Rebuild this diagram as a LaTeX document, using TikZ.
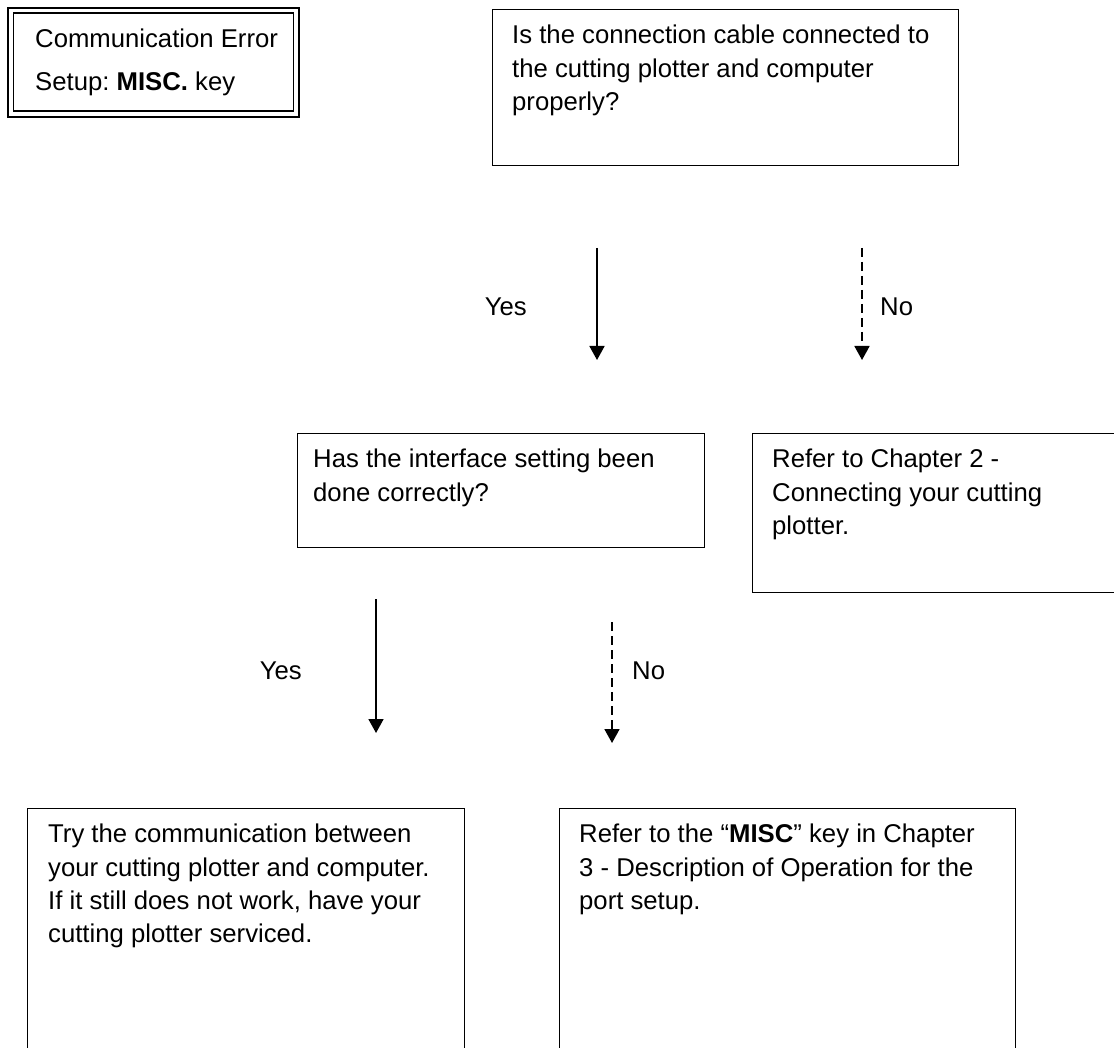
\documentclass[tikz,border=0pt]{standalone}
\usepackage{fontspec}
\setmainfont{Liberation Sans}
\usetikzlibrary{arrows.meta}
\frenchspacing
\begin{document}
\begin{tikzpicture}[x=1pt,y=-1pt,
  box/.style={draw=black, line width=1.4pt, rectangle, inner sep=0pt, anchor=north west},
  txt/.style={font=\fontsize{25.7pt}{33.3pt}\selectfont\frenchspacing, align=left, inner sep=0pt, anchor=north west, text=black},
  lbl/.style={font=\fontsize{25.7pt}{33.3pt}\selectfont, inner sep=0pt, text=black},
  yesarr/.style={draw=black, line width=1.8pt, -{Triangle[width=15pt,length=14pt]}},
  noarr/.style={yesarr, dash pattern=on 9pt off 5pt}]
\useasboundingbox (0,0) rectangle (1114,1048);
\fill[white] (0,0) rectangle (1114,1048);

% top-left double box
\node[box, line width=2.4pt, minimum width=291pt, minimum height=109pt] (err) at (7,7) {};
\node[box, line width=1.1pt, minimum width=280pt, minimum height=98pt] (errin) at (12.5,12.5) {};
\node[txt] (errt) at (35,28.5) {Communication Error\\[9.7pt]Setup: \textbf{MISC.} key};

% question 1
\node[box, minimum width=466pt, minimum height=156pt] (q1) at (492,9) {};
\node[txt] (q1t) at (512,25) {Is the connection cable connected to\\the cutting plotter and computer\\properly?};

% question 2
\node[box, minimum width=407pt, minimum height=114pt] (q2) at (297,433) {};
\node[txt] (q2t) at (313,449) {Has the interface setting been\\done correctly?};

% answer: chapter 2
\node[box, minimum width=400pt, minimum height=159pt] (r1) at (752,433) {};
\node[txt] (r1t) at (772,449) {Refer to Chapter 2 -\\Connecting your cutting\\plotter.};

% answer: service
\node[box, minimum width=437pt, minimum height=260pt] (r2) at (27,808) {};
\node[txt] (r2t) at (48,824) {Try the communication between\\your cutting plotter and computer.\\If it still does not work, have your\\cutting plotter serviced.};

% answer: MISC key
\node[box, minimum width=456pt, minimum height=260pt] (r3) at (559,808) {};
\node[txt] (r3t) at (579,824) {Refer to the “\textbf{MISC}” key in Chapter\\3 - Description of Operation for the\\port setup.};

% connectors
\coordinate (y1s) at (597,248); \coordinate (y1e) at (597,360);
\coordinate (n1s) at (862,248); \coordinate (n1e) at (862,360);
\coordinate (y2s) at (376,599); \coordinate (y2e) at (376,733);
\coordinate (n2s) at (612,622); \coordinate (n2e) at (612,743);
\draw[yesarr] (y1s) -- (y1e);
\draw[noarr] (n1s) -- (n1e);
\draw[yesarr] (y2s) -- (y2e);
\draw[noarr] (n2s) -- (n2e);

\node[lbl, anchor=base east] (y1l) at (527,316) {Yes};
\node[lbl, anchor=base west] (n1l) at (880,316) {No};
\node[lbl, anchor=base east] (y2l) at (302,679) {Yes};
\node[lbl, anchor=base west] (n2l) at (632,679) {No};
\end{tikzpicture}
\end{document}
